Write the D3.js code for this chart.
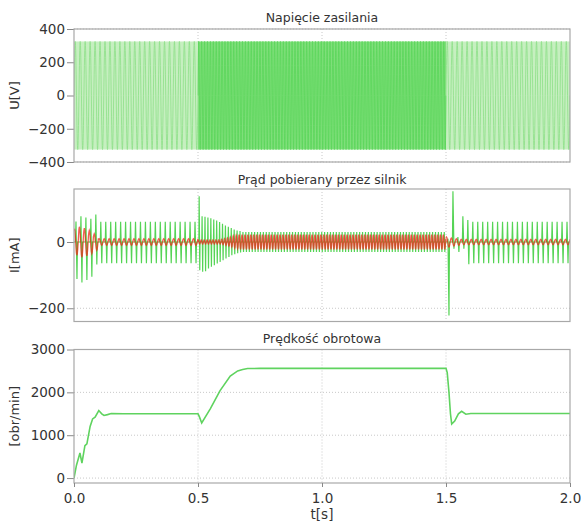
<!DOCTYPE html>
<html>
<head>
<meta charset="utf-8">
<script src="https://cdn.jsdelivr.net/npm/d3@7"></script>
<style>
  body { margin: 0; background: #fff; }
  text { font-family: "DejaVu Sans", Verdana, sans-serif; fill: #333; }
</style>
</head>
<body>
<div id="chart-area"></div>
<script>
// time axis
const xTicks = [0, 0.5, 1.0, 1.5, 2.0]

// supply voltage: segments (start, end, frequency, amplitude)
const vSegStart = [0, 0.5, 1.5]
const vSegEnd = [0.5, 1.5, 2.0]
const vSegFreq = [50, 85, 50]
const vSegAmp = [325, 325, 325]

// motor current, same segments; peak values of the first cycles, then steady peak
const iSegFreq = [50, 85, 50]
const greenUp1 = [62, 78, 74, 70, 83]
const greenDn1 = [-112, -122, -115, -105, -68]
const greenUp2 = [138, 78, 76, 74, 72, 68, 65, 60, 55, 50, 46, 42, 38, 35, 33]
const greenDn2 = [-85, -90, -88, -80, -75, -70, -65, -60, -55, -50, -45, -40, -37, -34, -32]
const greenUp3 = [10, 153, 15, 78, 66]
const greenDn3 = [-222, -20, -30, -20, -67]
const greenSteadyUp = [61, 30, 61]
const greenSteadyDn = [-64, -30, -64]
const red1 = [40, 46, 42, 35, 25]
const red2 = [6, 6, 6, 6, 6, 6, 6, 6, 8, 10, 12, 15, 18, 20]
const red3 = [15, 12, 10]
const redSteady = [10, 22, 8]

// rotational speed
const speedT = [0, 0.01, 0.024, 0.032, 0.044, 0.052, 0.065, 0.075, 0.085, 0.1, 0.112, 0.121, 0.135, 0.15, 0.2,
  0.5, 0.505, 0.515, 0.55, 0.589, 0.63, 0.66, 0.68, 0.7, 0.75, 1.5, 1.505, 1.512, 1.518, 1.523, 1.535,
  1.55, 1.563, 1.58, 1.6, 2.0]
const speedRpm = [0, 300, 585, 350, 755, 800, 1206, 1380, 1420, 1575, 1500, 1460, 1480, 1505, 1500,
  1500, 1440, 1286, 1620, 2041, 2380, 2500, 2532, 2555, 2560, 2560, 2460, 2000, 1500, 1260, 1330,
  1500, 1557, 1490, 1505, 1505]

const W = 581, H = 522
const LEFT = 74, RIGHT = 570

const svg = d3.select("#chart-area").append("svg")
  .attr("width", W)
  .attr("height", H)

const x = d3.scaleLinear().domain([0, 2]).range([LEFT, RIGHT])

const panels = [
  { title: "Napięcie zasilania", label: "U[V]", domain: [-400, 400], range: [162, 29], ticks: [400, 200, 0, -200, -400], titleY: 22 },
  { title: "Prąd pobierany przez silnik", label: "I[mA]", domain: [-240, 160], range: [321.5, 189], ticks: [0, -200], titleY: 184 },
  { title: "Prędkość obrotowa", label: "[obr/min]", domain: [-115, 3000], range: [483, 349.5], ticks: [3000, 2000, 1000, 0], titleY: 343 }
]

const ys = panels.map((p, i) => {
  const y = d3.scaleLinear().domain(p.domain).range(p.range)
  const top = p.range[1], bot = p.range[0]

  svg.append("clipPath").attr("id", "clip" + i)
    .append("rect").attr("x", LEFT).attr("y", top).attr("width", RIGHT - LEFT).attr("height", bot - top)

  // grid
  const grid = svg.append("g").attr("stroke", "#c8c8c8").attr("stroke-dasharray", "1,2")
  grid.selectAll(".gy").data(p.ticks).join("line")
    .attr("x1", LEFT).attr("x2", RIGHT).attr("y1", d => y(d)).attr("y2", d => y(d))
  grid.selectAll(".gx").data(xTicks.slice(1, -1)).join("line")
    .attr("x1", d => x(d)).attr("x2", d => x(d)).attr("y1", top).attr("y2", bot)

  // y axis
  const yAxis = svg.append("g")
    .attr("transform", `translate(${LEFT},0)`)
    .call(d3.axisLeft(y).tickValues(p.ticks).tickFormat(d3.format("d")).tickSize(7).tickPadding(2).tickSizeOuter(0))
  yAxis.select(".domain").remove()
  yAxis.selectAll("line").attr("stroke", "#888")
  yAxis.selectAll("text").style("font-size", "13.5px").attr("fill", "#333")

  svg.append("text")
    .attr("transform", `translate(19,${(top + bot) / 2}) rotate(-90)`)
    .attr("text-anchor", "middle")
    .style("font-size", "13px")
    .text(p.label)

  svg.append("text")
    .attr("x", (LEFT + RIGHT) / 2).attr("y", p.titleY)
    .attr("text-anchor", "middle")
    .style("font-size", "12.5px")
    .text(p.title)

  return y
})

const line = (y) => d3.line().x(d => x(d[0])).y(d => y(d[1]))

/******** voltage ********/
const yV = ys[0]
const gV = svg.append("g").attr("clip-path", "url(#clip0)")
gV.selectAll("rect.band").data(vSegStart).join("rect")
  .attr("x", (d, i) => x(d)).attr("width", (d, i) => x(vSegEnd[i]) - x(d))
  .attr("y", (d, i) => yV(vSegAmp[i])).attr("height", (d, i) => yV(-vSegAmp[i]) - yV(vSegAmp[i]))
  .attr("fill", (d, i) => vSegFreq[i] > 60 ? "#7fdf7a" : "#c6efc0")

vSegStart.forEach((t0, i) => {
  const T = 1 / vSegFreq[i]
  const n = Math.round((vSegEnd[i] - t0) * vSegFreq[i])
  const pts = []
  for (let k = 0; k < n; k++) {
    for (let j = 0; j < 32; j++) {
      const ph = j / 32
      pts.push([t0 + (k + ph) * T, vSegAmp[i] * Math.sin(2 * Math.PI * ph)])
    }
  }
  pts.push([vSegEnd[i], 0])
  gV.append("path")
    .attr("fill", "none")
    .attr("stroke", vSegFreq[i] > 60 ? "#5ad55a" : "#8ddf88")
    .attr("stroke-width", 0.8)
    .attr("d", line(yV)(pts))
})

/******** current ********/
const yI = ys[1]
const gI = svg.append("g").attr("clip-path", "url(#clip1)")
const greenUps = [greenUp1, greenUp2, greenUp3]
const greenDns = [greenDn1, greenDn2, greenDn3]
const reds = [red1, red2, red3]

vSegStart.forEach((t0, i) => {
  const f = iSegFreq[i], T = 1 / f
  const n = Math.round((vSegEnd[i] - t0) * f)
  const pts = []
  for (let k = 0; k < n; k++) {
    const s = t0 + k * T
    const up = k < greenUps[i].length ? greenUps[i][k] : greenSteadyUp[i]
    const dn = k < greenDns[i].length ? greenDns[i][k] : greenSteadyDn[i]
    pts.push([s, 0], [s + 0.3 * T, 0], [s + 0.4 * T, up], [s + 0.6 * T, dn], [s + 0.7 * T, 0])
  }
  pts.push([vSegEnd[i], 0])
  gI.append("path")
    .attr("fill", "none")
    .attr("stroke", "#55d455")
    .attr("stroke-width", 1.2)
    .attr("d", line(yI)(pts))
})

vSegStart.forEach((t0, i) => {
  const f = iSegFreq[i], T = 1 / f
  const n = Math.round((vSegEnd[i] - t0) * f)
  const pts = []
  for (let k = 0; k < n; k++) {
    const a = k < reds[i].length ? reds[i][k] : redSteady[i]
    for (let j = 0; j < 12; j++) {
      const ph = j / 12
      pts.push([t0 + (k + ph) * T, a * Math.sin(2 * Math.PI * ph + 1)])
    }
  }
  pts.push([vSegEnd[i], 0])
  gI.append("path")
    .attr("fill", "none")
    .attr("stroke", "#ee2a1a")
    .attr("stroke-opacity", 0.75)
    .attr("stroke-width", 1.3)
    .attr("d", line(yI)(pts))
})

/******** speed ********/
const yS = ys[2]
svg.append("path")
  .attr("clip-path", "url(#clip2)")
  .attr("fill", "none")
  .attr("stroke", "#5fd35f")
  .attr("stroke-width", 1.6)
  .attr("d", d3.line().x((d, i) => x(speedT[i])).y(d => yS(d))(speedRpm))

// frames
panels.forEach(p => {
  svg.append("rect")
    .attr("x", LEFT).attr("y", p.range[1])
    .attr("width", RIGHT - LEFT).attr("height", p.range[0] - p.range[1])
    .attr("fill", "none").attr("stroke", "#a8a8a8").attr("stroke-width", 1.2)
})

// x axis
const xAxis = svg.append("g")
  .attr("transform", `translate(0,${panels[2].range[0]})`)
  .call(d3.axisBottom(x).tickValues(xTicks).tickFormat(d3.format(".1f")).tickSize(4).tickPadding(6).tickSizeOuter(0))
xAxis.select(".domain").remove()
xAxis.selectAll("line").attr("stroke", "#888")
xAxis.selectAll("text").style("font-size", "13.5px").attr("fill", "#333")

svg.append("text")
  .attr("x", (LEFT + RIGHT) / 2).attr("y", 519)
  .attr("text-anchor", "middle")
  .style("font-size", "13.5px")
  .text("t[s]")
</script>
</body>
</html>
